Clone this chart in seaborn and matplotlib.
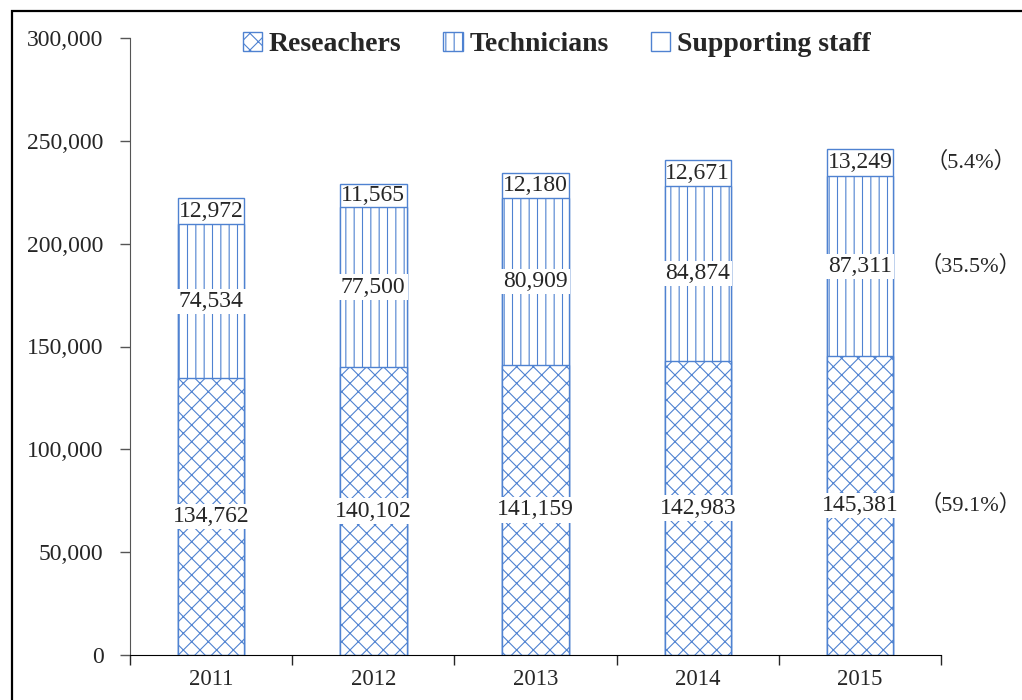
import matplotlib
matplotlib.use("Agg")
import matplotlib.pyplot as plt
import seaborn as sns
import pandas as pd
from matplotlib.patches import Patch, Rectangle
from matplotlib.ticker import FuncFormatter, FixedLocator

# ---------------- data ----------------
years = ["2011", "2012", "2013", "2014", "2015"]
researchers = [134762, 140102, 141159, 142983, 145381]
technicians = [74534, 77500, 80909, 84874, 87311]
supporting = [12972, 11565, 12180, 12671, 13249]
share_labels = ["（59.1%）", "（35.5%）", "（5.4%）"]  # 2015 shares, bottom to top

df = pd.DataFrame({"year": years, "res": researchers, "tech": technicians, "sup": supporting})
df["res_tech"] = df["res"] + df["tech"]
df["total"] = df["res_tech"] + df["sup"]

# ---------------- style ----------------
sns.set_style("white")
plt.rcParams["font.family"] = ["Liberation Serif", "Noto Sans CJK SC"]
plt.rcParams["hatch.linewidth"] = 0.8
blue = "#4f82d1"
fs = 17

fig = plt.figure(figsize=(10.22, 7.0), dpi=100)
ax = fig.add_axes([0.127, 0.064, 0.794, 0.882])

# stacked bars: draw totals first, then overlay lower segments
w = 0.41
sns.barplot(data=df, x="year", y="total", color="white", edgecolor=blue,
            linewidth=1.0, width=w, ax=ax)
sns.barplot(data=df, x="year", y="res_tech", color="white", edgecolor=blue,
            linewidth=1.0, width=w, hatch="||", ax=ax)
sns.barplot(data=df, x="year", y="res", color="white", edgecolor=blue,
            linewidth=1.0, width=w, hatch="xx", ax=ax)

# value labels at segment centres
for i in range(len(years)):
    r, t, s = researchers[i], technicians[i], supporting[i]
    ax.text(i, r / 2, f"{r:,}", ha="center", va="center", fontsize=fs,
            bbox=dict(facecolor="white", edgecolor="none", pad=1.5))
    ax.text(i, r + t / 2, f"{t:,}", ha="center", va="center", fontsize=fs,
            bbox=dict(facecolor="white", edgecolor="none", pad=1.5))
    ax.text(i, r + t + s / 2, f"{s:,}", ha="center", va="center", fontsize=fs)

# share labels to the right of the 2015 bar
last = len(years) - 1
mids = [researchers[last] / 2,
        researchers[last] + technicians[last] / 2,
        researchers[last] + technicians[last] + supporting[last] / 2]
for y, lab in zip(mids, share_labels):
    ax.text(4.68, y, lab, ha="center", va="center", fontsize=fs - 1, clip_on=False)

# axes
ax.set_xlim(-0.5, 4.5)
ax.set_ylim(0, 300000)
ax.set_yticks(range(0, 300001, 50000))
ax.yaxis.set_major_formatter(FuncFormatter(lambda v, p: f"{int(v):,}"))
ax.set_xlabel("")
ax.set_ylabel("")
for side in ["top", "right"]:
    ax.spines[side].set_visible(False)
ax.spines["left"].set_color("#555555")
ax.spines["bottom"].set_color("black")
ax.tick_params(axis="y", direction="out", length=7, width=1, color="#555555",
               labelsize=fs, pad=12, left=True)
ax.tick_params(axis="x", which="major", length=0, labelsize=fs - 0.5, pad=10)
ax.xaxis.set_minor_locator(FixedLocator([-0.5, 0.5, 1.5, 2.5, 3.5, 4.5]))
ax.tick_params(axis="x", which="minor", direction="out", length=7, width=1, bottom=True)
ax.grid(False)

# legend
handles = [Patch(facecolor="white", edgecolor=blue, hatch="xx"),
           Patch(facecolor="white", edgecolor=blue, hatch="||"),
           Patch(facecolor="white", edgecolor=blue)]
ax.legend(handles, ["Reseachers", "Technicians", "Supporting staff"], ncol=3,
          loc="center", bbox_to_anchor=(0.526, 0.989), frameon=False,
          prop={"weight": "bold", "size": 20}, handlelength=0.7, handleheight=0.7,
          handletextpad=0.25, columnspacing=1.5)

# outer frame (only top and left visible in the crop)
fig.patches.append(Rectangle((0.0117, -0.2), 1.5, 0.984 + 0.2, transform=fig.transFigure,
                             fill=False, edgecolor="black", linewidth=1.6))

fig.savefig("out.png", dpi=100)
